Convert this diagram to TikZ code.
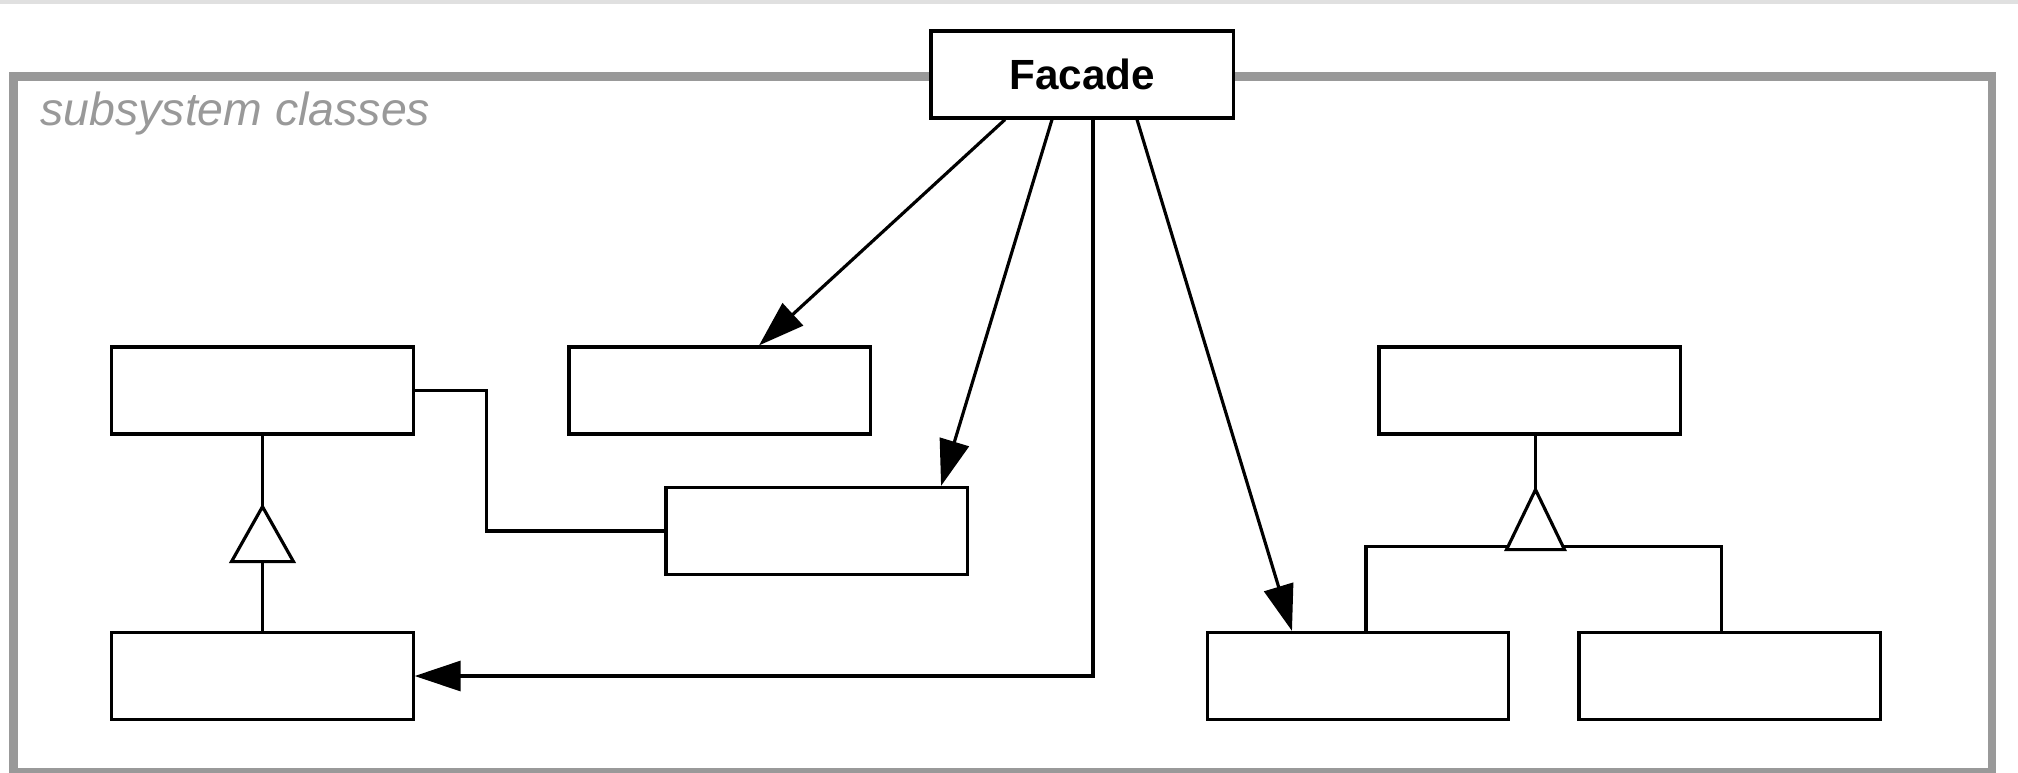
\documentclass[tikz,border=0pt]{standalone}
\usepackage{fontspec}
\setmainfont{Liberation Sans}
\usetikzlibrary{arrows.meta}
\begin{document}
\begin{tikzpicture}[x=0.01cm,y=-0.01cm,line width=0.9pt,
	    classbox/.style={draw,fill=white,inner sep=0pt,minimum width=3.01cm,minimum height=0.87cm},
	    uses/.style={-{Triangle[length=0.46cm,width=0.3cm]}},
	    frame/.style={draw=black!40,line width=2.3pt}]
	    \useasboundingbox (0,0) rectangle (2018,772);
	    \fill[black!12](0,0) rectangle (2018,4);
	    \draw[frame](13.5,76.5) rectangle (1992,772);
	    \node[anchor=base west,inner sep=0pt,text=black!40,font=\itshape\fontsize{13.2}{15}\selectfont](sub) at (39,125){subsystem classes};
	    \node[classbox,minimum width=3.02cm,font=\bfseries\fontsize{12}{14}\selectfont](facade) at (1082,74.5){Facade};
	    \node[classbox](a) at (262.5,390.5){};
	    \node[classbox](b) at (719.5,390.5){};
	    \node[classbox](c) at (816.5,531){};
	    \node[classbox](d) at (262.5,676){};
	    \node[classbox](e) at (1529.5,390.5){};
	    \node[classbox](f) at (1358,676){};
	    \node[classbox](g) at (1729.5,676){};
	    \coordinate (tipl) at ([yshift=-0.71cm]a.south);
	    \coordinate (tipr) at ([xshift=0.06cm,yshift=-0.54cm]e.south);
	    \draw[uses]([xshift=-0.77cm]facade.south) -- ([xshift=0.395cm]b.north);
	    \draw[uses]([xshift=-0.30cm]facade.south) -- ([xshift=1.245cm]c.north);
	    \draw[uses]([xshift=0.11cm]facade.south) |- (d.east);
	    \draw[uses]([xshift=0.55cm]facade.south) -- ([xshift=-0.66cm]f.north);
	    \draw(a.east) -- ++(72,0) |- (c.west);
	    \draw(a.south) -- (tipl);
	    \draw[fill=white](tipl) -- ++(-31,55) -- ++(62,0) -- cycle;
	    \draw([yshift=-0.55cm]tipl) -- (d.north);
	    \draw([xshift=0.06cm]e.south) -- (tipr);
	    \draw([xshift=0.08cm]f.north) -- ++(0,-84) -| ([xshift=-0.08cm]g.north);
	    \draw[fill=white](tipr) -- ++(-29,60) -- ++(58,0) -- cycle;
	\end{tikzpicture}
\end{document}
